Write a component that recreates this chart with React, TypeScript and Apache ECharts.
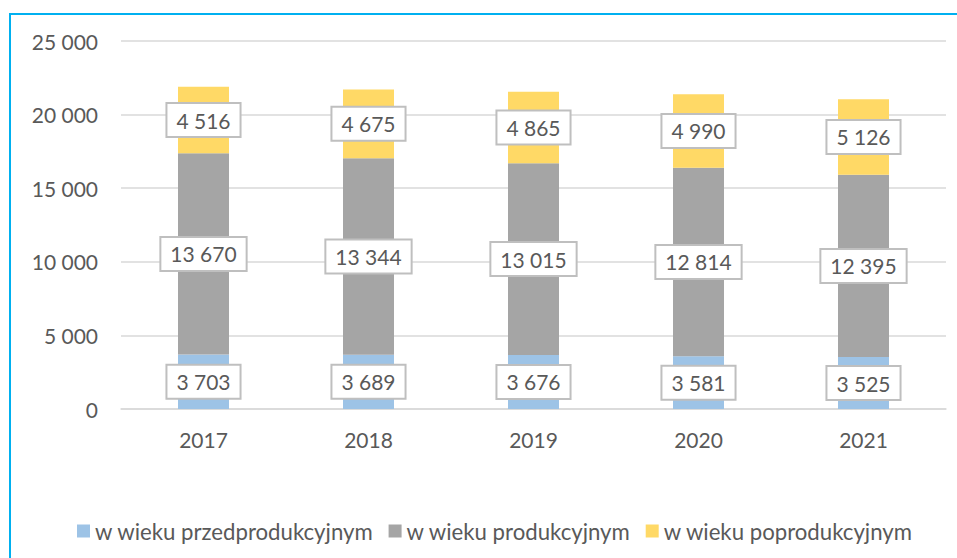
import React, { useEffect, useRef } from "react";
import * as echarts from "echarts";

const categories = ["2017", "2018", "2019", "2020", "2021"];
const preProductive = [3703, 3689, 3676, 3581, 3525];
const productive = [13670, 13344, 13015, 12814, 12395];
const postProductive = [4516, 4675, 4865, 4990, 5126];
const seriesNames = ["w wieku przedprodukcyjnym", "w wieku produkcyjnym", "w wieku poprodukcyjnym"];
const colors = ["#9DC3E6", "#A5A5A5", "#FFD966"];

const fmt = (v: number) => String(v).replace(/\B(?=(\d{3})+(?!\d))/g, " ");
const FONT = "Lato";
const TXT = "#595959";

export default function App() {
  const ref = useRef<HTMLDivElement>(null);
  useEffect(() => {
    if (!ref.current) return;
    const chart = echarts.init(ref.current, null, { renderer: "svg" });
    const label = {
      show: true,
      position: "inside",
      formatter: (p: any) => fmt(p.value),
      color: TXT,
      fontFamily: FONT,
      fontSize: 21,
      backgroundColor: "#FFFFFF",
      borderColor: "#BFBFBF",
      borderWidth: 2,
      padding: [6, 9, 5, 9],
    };
    const datas = [preProductive, productive, postProductive];
    chart.setOption({
      animation: false,
      textStyle: { fontFamily: FONT },
      graphic: [
        {
          type: "rect",
          shape: { x: 10, y: 14, width: 1200, height: 1200 },
          style: { fill: "none", stroke: "#00B0F0", lineWidth: 2 },
          silent: true,
        },
      ],
      grid: { left: 121, right: 11, top: 41, bottom: 149, containLabel: false },
      legend: {
        left: 72,
        top: 515,
        itemWidth: 13,
        itemHeight: 13,
        itemGap: 15,
        textStyle: { color: TXT, fontFamily: FONT, fontSize: 22.2 },
        data: seriesNames.map((n) => ({ name: n, icon: "rect" })),
      },
      xAxis: {
        type: "category",
        data: categories,
        axisLine: { lineStyle: { color: "#D9D9D9", width: 1.5 } },
        axisTick: { show: false },
        axisLabel: { color: TXT, fontFamily: FONT, fontSize: 21, margin: 20 },
      },
      yAxis: {
        type: "value",
        min: 0,
        max: 25000,
        interval: 5000,
        axisLine: { show: false },
        axisTick: { show: false },
        axisLabel: { color: TXT, fontFamily: FONT, fontSize: 21, margin: 23, formatter: (v: number) => fmt(v) },
        splitLine: { lineStyle: { color: "#D9D9D9", width: 1.5 } },
      },
      series: seriesNames.map((name, i) => ({
        name,
        type: "bar",
        stack: "total",
        barWidth: 51,
        data: datas[i],
        itemStyle: { color: colors[i] },
        label,
      })),
    });
    return () => chart.dispose();
  }, []);
  return <div ref={ref} style={{ position: "fixed", left: 0, top: 0, width: 957, height: 558, background: "#fff" }} />;
}
